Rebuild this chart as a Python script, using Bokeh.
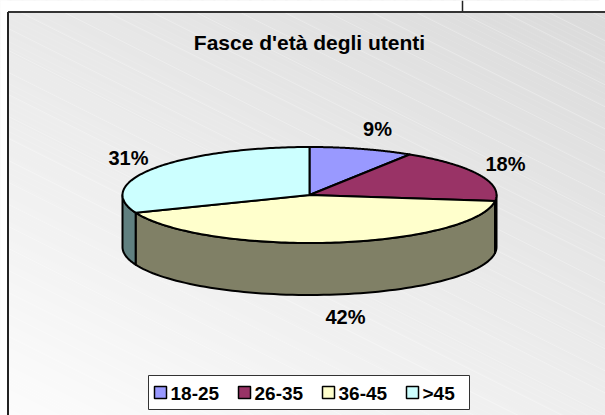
import numpy as np
from bokeh.plotting import figure
from bokeh.models import Range1d
from bokeh.embed import file_html
from bokeh.resources import INLINE
from bokeh.core.properties import value

# ---------------- data ----------------
title_text = "Fasce d'età degli utenti"
categories = ["18-25", "26-35", "36-45", ">45"]
percentages = [9, 18, 42, 31]
label_texts = ["9%", "18%", "42%", "31%"]

# ---------------- styles / layout ----------------
top_colors = ["#9999FF", "#993366", "#FFFFCC", "#CCFFFF"]
side_colors = ["#4D4D80", "#4D1A33", "#808066", "#608080"]
label_xy = [(377, 128), (505, 163), (345, 316), (128, 157)]
FONT = value("Liberation Sans")

W, H = 605, 415
p = figure(width=W, height=H, x_range=Range1d(0, W), y_range=Range1d(H, 0),
           output_backend="svg", toolbar_location=None, min_border=0,
           x_axis_location=None, y_axis_location=None)
p.grid.visible = False
p.outline_line_color = None
p.background_fill_color = "white"
p.border_fill_color = "white"

# background gradient (lighter bottom-left, darker top-right), bands along t = 0.5x - y
t_min, t_max = -415.0, 295.0
step = 6.0
bx, by, bc = [], [], []
t = t_min
while t < t_max:
    c0, c1 = t, t + step
    mid = (c0 + c1) / 2
    f = (mid - t_min) / (t_max - t_min)
    g = int(round(252 - f * (252 - 218)))
    bx.append([-20, 640, 640, -20])
    by.append([0.5 * -20 - c0, 0.5 * 640 - c0, 0.5 * 640 - c1, 0.5 * -20 - c1])
    bc.append("#%02x%02x%02x" % (g, g, g))
    t += step
p.patches(bx, by, fill_color=bc, line_color=bc, line_width=0.5)

# faint light diagonal stripes
sx, sy = [], []
for c in np.arange(-420, 300, 22):
    sx.append([-20, 640])
    sy.append([0.5 * -20 - c, 0.5 * 640 - c])
p.multi_line(sx, sy, line_color="white", line_alpha=0.25, line_width=1)

# page area outside the chart frame
p.quad(left=-5, right=620, top=-5, bottom=11, fill_color="white", line_color=None)
p.quad(left=-5, right=7, top=-5, bottom=420, fill_color="white", line_color=None)
# frame
p.line([7.5, 620], [11.5, 11.5], line_color="#333333", line_width=2)
p.line([7.5, 7.5], [11.5, 420], line_color="#222222", line_width=2)
p.line([462, 462], [0, 11], line_color="#222222", line_width=1.5)

# title
p.text(x=[309], y=[42], text=[title_text], text_font=FONT, text_font_style="bold",
       text_font_size="21px", text_align="center", text_baseline="middle", text_color="black")

# ---------------- 3D pie ----------------
cx, cy, rx, ry, depth = 309.0, 194.5, 187.0, 48.0, 52.0
vals = np.array(percentages, dtype=float)
cum = np.concatenate([[0.0], np.cumsum(vals / vals.sum())]) * 2 * np.pi


def ex(a):
    return cx + rx * np.sin(a)


def ey(a, off=0.0):
    return cy - ry * np.cos(a) + off


# side walls (front half only)
for i in range(len(vals)):
    a = max(cum[i], np.pi / 2)
    b = min(cum[i + 1], 3 * np.pi / 2)
    if a < b:
        ts = np.linspace(a, b, 80)
        xs = list(ex(ts)) + list(ex(ts[::-1]))
        ys = list(ey(ts)) + list(ey(ts[::-1], depth))
        p.patch(xs, ys, fill_color=side_colors[i], line_color="black", line_width=2,
                line_join="round")

# top faces
for i in range(len(vals)):
    ts = np.linspace(cum[i], cum[i + 1], 120)
    xs = [cx] + list(ex(ts))
    ys = [cy] + list(ey(ts))
    p.patch(xs, ys, fill_color=top_colors[i], line_color="black", line_width=2,
            line_join="round")

# data labels
p.text(x=[xy[0] for xy in label_xy], y=[xy[1] for xy in label_xy], text=label_texts,
       text_font=FONT, text_font_style="bold", text_font_size="20px",
       text_align="center", text_baseline="middle", text_color="black")

# ---------------- legend ----------------
p.quad(left=148, right=469, top=375, bottom=409, fill_color="white", line_color="#333333",
       line_width=1)
for i, cat in enumerate(categories):
    x0 = 154 + 84 * i
    p.quad(left=x0, right=x0 + 12, top=386, bottom=398, fill_color=top_colors[i],
           line_color="black", line_width=1.5)
    p.text(x=[x0 + 16], y=[392.5], text=[cat], text_font=FONT, text_font_style="bold",
           text_font_size="19px", text_align="left", text_baseline="middle",
           text_color="black")

open("out.html", "w").write(file_html(p, INLINE))
